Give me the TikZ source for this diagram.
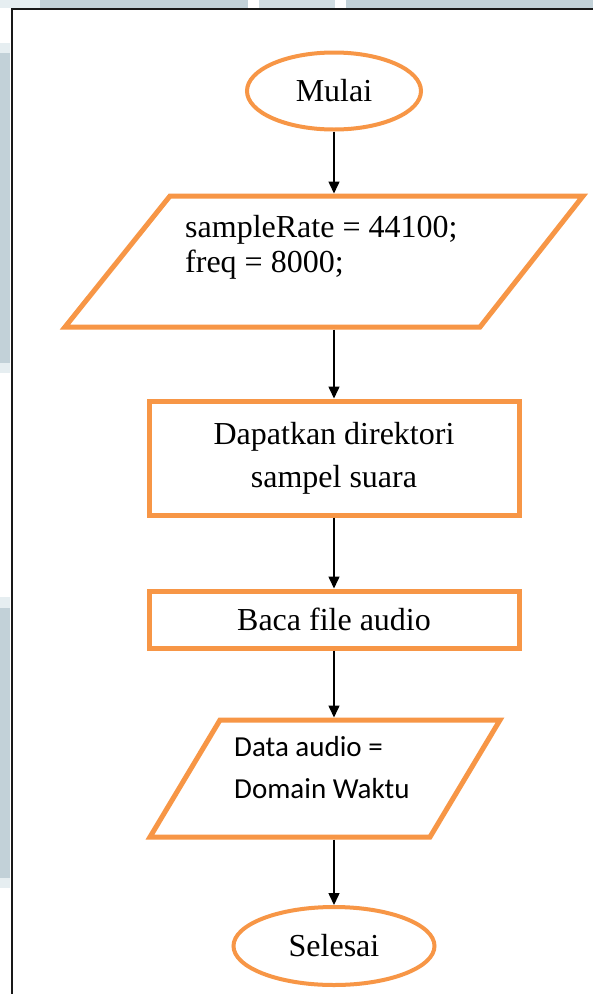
\documentclass[tikz,border=0pt]{standalone}
\usepackage{fontspec}
\setmainfont{Liberation Serif}
\newfontfamily\calibrifont{Carlito}
\usetikzlibrary{arrows.meta,shapes.geometric}
\definecolor{orng}{HTML}{F79646}
\definecolor{bggray}{HTML}{C2D1D8}
\definecolor{bglight}{HTML}{E6EEF1}
\begin{document}
\begin{tikzpicture}[x=1pt,y=-1pt,
  ovalbox/.style={ellipse, draw=orng, line width=4pt, inner sep=0pt,
    font=\fontsize{32}{38}\selectfont},
  procbox/.style={rectangle, draw=orng, line width=5pt, inner sep=0pt,
    align=center, font=\fontsize{32}{43}\selectfont},
  ioline/.style={draw=orng, line width=5pt, line join=miter},
  iotext/.style={anchor=west, align=left, inner sep=0pt},
  flow/.style={line width=1.5pt, -{Triangle[width=11pt,length=12pt]}},
]
\useasboundingbox (0,0) rectangle (593,994);
\fill[white] (0,0) rectangle (593,994);
% screenshot background
\fill[bglight] (0,0) rectangle (40,7.5);
\fill[bggray] (40,0) rectangle (248,7.5);
\fill[bggray!75] (259,0) rectangle (335,7.5);
\fill[bggray] (346,0) rectangle (593,7.5);
\fill[bglight] (0,43) rectangle (10,53);
\fill[bggray] (0,53) rectangle (10,363);
\fill[bglight] (0,363) rectangle (10,373);
\fill[bglight] (0,597) rectangle (10,608);
\fill[bggray] (0,608) rectangle (10,878);
\fill[bglight] (0,878) rectangle (10,888);
\draw[line width=2pt, black!90] (11.5,994) -- (11.5,8.5) -- (593,8.5);

% start
\node[ovalbox, minimum width=174pt, minimum height=77pt] (mulai) at (334,91) {Mulai};

% input parallelogram
\coordinate (inBL) at (65,327);
\coordinate (inTL) at (170,196);
\coordinate (inTR) at (583,196);
\coordinate (inBR) at (480,327);
\draw[ioline] (inBL) -- (inTL) -- (inTR) -- (inBR) -- cycle;
\coordinate (inTop) at (334,193.5);
\coordinate (inBot) at (334,329.5);
\node[iotext, font=\fontsize{32}{35}\selectfont] (inputtext) at (185,247)
  {sampleRate = 44100;\\freq = 8000;};

% processes
\node[procbox, minimum width=370pt, minimum height=114pt] (dir) at (334,458)
  {Dapatkan direktori\\sampel suara};
\node[procbox, minimum width=370pt, minimum height=57pt] (baca) at (334,619.5)
  {Baca file audio};

% data parallelogram
\coordinate (dtBL) at (150,837);
\coordinate (dtTL) at (220,720);
\coordinate (dtTR) at (500,720);
\coordinate (dtBR) at (430,837);
\draw[ioline] (dtBL) -- (dtTL) -- (dtTR) -- (dtBR) -- cycle;
\coordinate (dtTop) at (334,717.5);
\coordinate (dtBot) at (334,839.5);
\node[iotext, font=\calibrifont\fontsize{29}{42}\selectfont] (datatext) at (234,768)
  {Data audio =\\Domain Waktu};

% end
\node[ovalbox, minimum width=201pt, minimum height=78pt] (selesai) at (334,946) {Selesai};

% connectors
\draw[flow] (mulai.south) -- (inTop);
\draw[flow] (inBot) -- (dir.north);
\draw[flow] (dir.south) -- (baca.north);
\draw[flow] (baca.south) -- (dtTop);
\draw[flow] (dtBot) -- (selesai.north);
\end{tikzpicture}
\end{document}
